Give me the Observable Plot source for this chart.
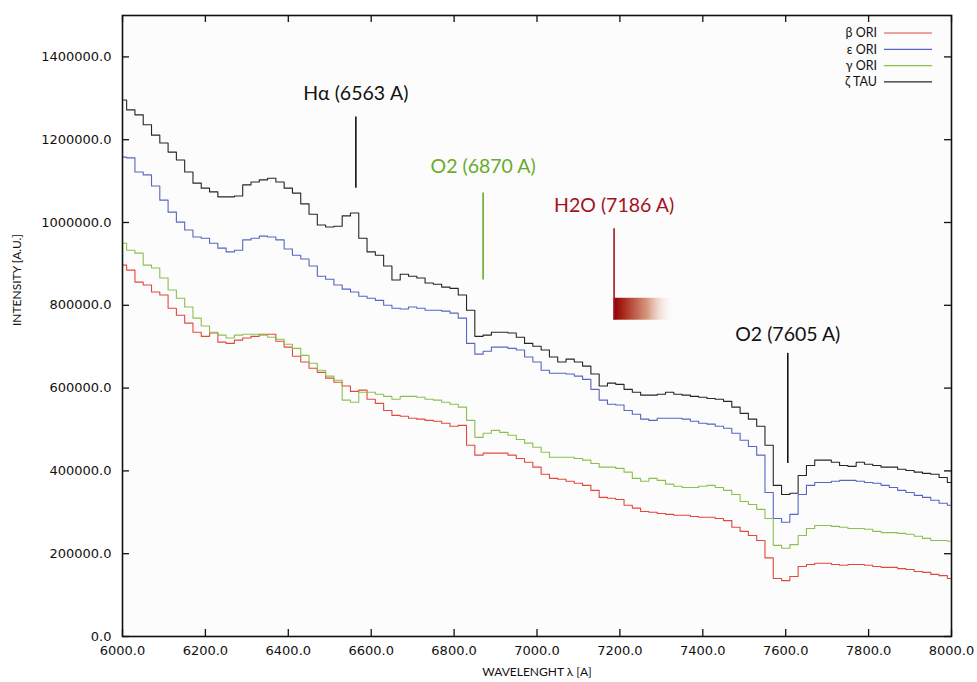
<!DOCTYPE html>
<html>
<head>
<meta charset="utf-8">
<script src="https://cdn.jsdelivr.net/npm/d3@7"></script>
<script src="https://cdn.jsdelivr.net/npm/@observablehq/plot@0.6"></script>
<style>
  html, body { margin: 0; padding: 0; background: #ffffff; }
  #chart svg { display: block; }
</style>
</head>
<body>
<div id="chart"></div>
<script>
// Spectra sampled every 20 A from 6000 A to 8000 A; intensities in thousands (A.U.)
const wavelengths = d3.range(6000, 8001, 20);

const betaOri = [
  897, 885, 856, 849, 832, 825, 793, 776, 757, 735,
  725, 733, 711, 708, 716, 721, 725, 730, 730, 713,
  699, 677, 663, 648, 638, 624, 614, 605, 592, 595,
  573, 563, 546, 534, 532, 527, 525, 522, 520, 515,
  508, 510, 462, 438, 443, 443, 443, 438, 430, 421,
  409, 392, 382, 380, 375, 370, 365, 353, 336, 334,
  331, 317, 310, 302, 300, 297, 295, 293, 293, 290,
  288, 288, 285, 280, 264, 254, 244, 232, 190, 140,
  135, 145, 169, 174, 177, 177, 174, 172, 174, 174,
  172, 169, 167, 167, 164, 162, 157, 155, 150, 147,
  140
];

const epsilonOri = [
  1158, 1156, 1122, 1115, 1088, 1054, 1025, 1001, 982, 965,
  962, 950, 938, 929, 933, 958, 962, 967, 965, 958,
  936, 921, 912, 895, 870, 863, 849, 839, 832, 822,
  817, 812, 800, 793, 791, 796, 793, 788, 788, 786,
  781, 769, 708, 682, 689, 699, 699, 696, 692, 675,
  663, 643, 636, 636, 634, 629, 621, 597, 571, 561,
  559, 546, 537, 525, 522, 527, 527, 527, 525, 520,
  515, 513, 508, 503, 491, 474, 459, 438, 348, 285,
  276, 295, 343, 365, 372, 372, 375, 377, 377, 375,
  372, 370, 365, 360, 353, 348, 341, 336, 329, 322,
  317
];

const gammaOri = [
  950, 933, 926, 897, 890, 866, 837, 817, 796, 769,
  750, 735, 728, 721, 728, 730, 730, 728, 723, 718,
  706, 696, 679, 660, 643, 629, 619, 571, 566, 590,
  590, 585, 580, 573, 580, 580, 578, 573, 571, 566,
  561, 554, 522, 481, 491, 498, 493, 486, 476, 467,
  457, 445, 433, 433, 433, 430, 426, 418, 409, 409,
  406, 397, 382, 375, 382, 377, 368, 363, 360, 360,
  363, 365, 360, 353, 343, 326, 319, 307, 285, 220,
  213, 222, 244, 261, 268, 268, 266, 264, 261, 261,
  259, 254, 251, 251, 249, 247, 242, 237, 232, 232,
  230
];

const zetaTau = [
  1296, 1272, 1260, 1236, 1211, 1192, 1170, 1151, 1122, 1095,
  1083, 1074, 1062, 1062, 1064, 1091, 1098, 1103, 1107, 1098,
  1083, 1071, 1045, 1020, 994, 989, 991, 1016, 1023, 962,
  929, 921, 895, 861, 875, 870, 866, 854, 851, 844,
  841, 825, 788, 725, 728, 735, 735, 733, 723, 708,
  701, 692, 675, 663, 670, 663, 653, 634, 605, 612,
  609, 597, 590, 583, 583, 585, 590, 585, 583, 580,
  578, 575, 573, 568, 554, 539, 525, 508, 462, 365,
  343, 346, 389, 413, 426, 426, 421, 413, 411, 421,
  416, 413, 409, 409, 404, 401, 397, 394, 392, 384,
  372
];

const seriesNames = ["β ORI", "ε ORI", "γ ORI", "ζ TAU"];
const seriesColors = ["#e2483c", "#5666c2", "#8cc04e", "#262626"];
const seriesValues = [betaOri, epsilonOri, gammaOri, zetaTau];

const xTicks = [6000, 6200, 6400, 6600, 6800, 7000, 7200, 7400, 7600, 7800, 8000];
const yTicks = [0, 200000, 400000, 600000, 800000, 1000000, 1200000, 1400000];

// Absorption / emission features: wavelength, label, colour, marker span and label height (A.U.)
const featureLabels = ["Hα (6563 A)", "O2 (6870 A)", "H2O (7186 A)", "O2 (7605 A)"];
const featureWavelengths = [6563, 6870, 7186, 7605];
const featureColors = ["#111111", "#6aaa2c", "#a3121c", "#111111"];
const featureTop = [1255000, 1071000, 985000, 684000];
const featureBottom = [1083000, 861000, 764000, 418000];
const featureLabelY = [1311000, 1134000, 1040000, 730000];

// Telluric H2O band shading
const h2oBand = [{x1: 7186, x2: 7335, y1: 764000, y2: 817000}];

const spectra = [];
seriesValues.forEach((values, s) => {
  values.forEach((v, i) => spectra.push({star: seriesNames[s], wl: wavelengths[i], intensity: v * 1000}));
});

const features = featureLabels.map((label, i) => ({
  label, wl: featureWavelengths[i], color: featureColors[i],
  top: featureTop[i], bottom: featureBottom[i], ty: featureLabelY[i]
}));

const W = 977, H = 682;
const mL = 122, mR = 26, mT = 15, mB = 46;
const innerW = W - mL - mR, innerH = H - mT - mB;
const tickLen = 7;

const gradientDefs = () => {
  const defs = d3.create("svg:defs");
  const g = defs.append("linearGradient").attr("id", "h2oFade")
    .attr("x1", "0%").attr("x2", "100%").attr("y1", "0%").attr("y2", "0%");
  g.append("stop").attr("offset", "0%").attr("stop-color", "#8a0008");
  g.append("stop").attr("offset", "15%").attr("stop-color", "#a8261a");
  g.append("stop").attr("offset", "55%").attr("stop-color", "#d79a80");
  g.append("stop").attr("offset", "100%").attr("stop-color", "#ffffff").attr("stop-opacity", 0);
  return defs.node();
};

const chart = Plot.plot({
  width: W,
  height: H,
  marginLeft: mL,
  marginRight: mR,
  marginTop: mT,
  marginBottom: mB,
  style: {fontFamily: "DejaVu Sans", fontSize: "13px", background: "#ffffff", color: "#111"},
  x: {domain: [6000, 8000], label: null},
  y: {domain: [0, 1500000], label: null},
  color: {domain: seriesNames, range: seriesColors},
  marks: [
    gradientDefs,
    Plot.frame({fill: "#fcfcfc", stroke: null}),
    Plot.line(spectra, {
      x: "wl", y: "intensity", z: "star", stroke: "star",
      curve: "step", strokeWidth: 1.1
    }),
    Plot.rect(h2oBand, {x1: "x1", x2: "x2", y1: "y1", y2: "y2", fill: "url(#h2oFade)"}),
    Plot.ruleX(features, {x: "wl", y1: "bottom", y2: "top", stroke: "color", strokeWidth: 1.6}),
    Plot.text(features, {
      x: "wl", y: "ty", text: "label", fill: "color",
      fontFamily: "Lato", fontWeight: 400, fontSize: 19.5, lineAnchor: "middle"
    }),
    // inward ticks on all four sides
    Plot.tickY(yTicks, {y: d => d, insetRight: innerW - tickLen, stroke: "#111", strokeWidth: 1.3}),
    Plot.tickY(yTicks, {y: d => d, insetLeft: innerW - tickLen, stroke: "#111", strokeWidth: 1.3}),
    Plot.tickX(xTicks, {x: d => d, insetTop: innerH - tickLen, stroke: "#111", strokeWidth: 1.3}),
    Plot.tickX(xTicks, {x: d => d, insetBottom: innerH - tickLen, stroke: "#111", strokeWidth: 1.3}),
    Plot.axisY({ticks: yTicks, tickSize: 0, tickPadding: 11, tickFormat: d => d.toFixed(1), label: null}),
    Plot.axisX({ticks: xTicks, tickSize: 0, tickPadding: 9, tickFormat: d => d.toFixed(1), label: null}),
    Plot.text(["INTENSITY [A.U.]"], {
      frameAnchor: "left", rotate: -90, dx: -105, fontFamily: "Lato", fontSize: 12, fill: "#111"
    }),
    Plot.text(["WAVELENGHT λ [A]"], {
      frameAnchor: "bottom", dy: 39, fontFamily: "Lato", fontSize: 12, fill: "#111"
    }),
    Plot.frame({stroke: "#111", strokeWidth: 1.6})
  ]
});

// Key in the upper-right corner
const svg = d3.select(chart);
const key = svg.append("g").attr("font-family", "Lato")
  .attr("font-size", 12.5).attr("fill", "#111");
seriesNames.forEach((name, i) => {
  const y = 33 + i * 16.3;
  key.append("text").attr("x", 877).attr("y", y).attr("dy", "0.35em")
    .attr("text-anchor", "end").text(name);
  key.append("line").attr("x1", 884).attr("x2", 932).attr("y1", y).attr("y2", y)
    .attr("stroke", seriesColors[i]).attr("stroke-width", 1.2);
});

document.getElementById("chart").appendChild(chart);
</script>
</body>
</html>
